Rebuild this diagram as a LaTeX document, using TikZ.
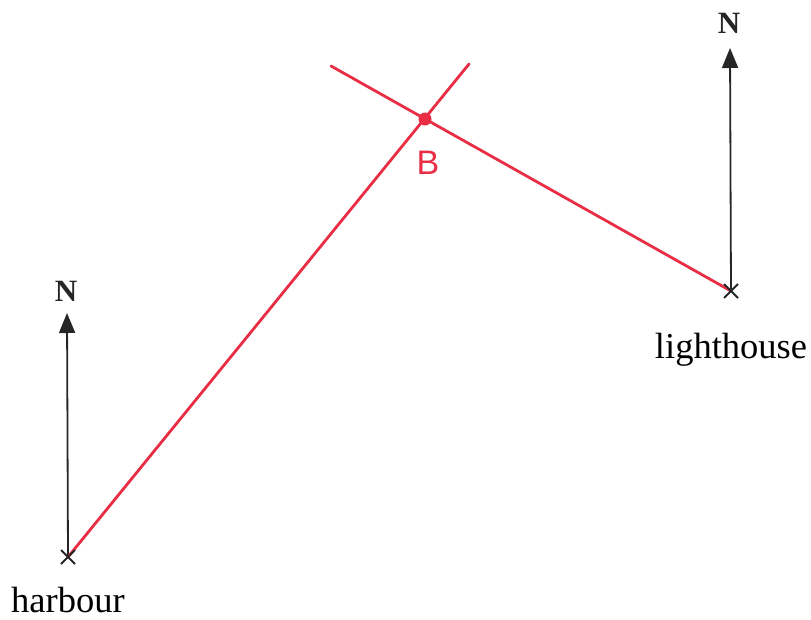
\documentclass[tikz,border=0pt]{standalone}
\usepackage{fontspec}
\setmainfont{Liberation Serif}
\usetikzlibrary{arrows.meta,calc}
\definecolor{pen}{RGB}{232,45,68}
\tikzset{
  northarrow/.style={draw=black!85, line width=1.8pt, -{Triangle[length=20pt,width=16pt]}},
  redline/.style={draw=pen, line width=2.8pt, line cap=round},
  place/.style={font=\fontsize{36.5}{40}\selectfont, anchor=base},
  nlabel/.style={font=\fontsize{31}{34}\selectfont\bfseries, text=black!85},
  cross/.style={draw=black!85, line width=1.8pt}
}
\begin{document}
\begin{tikzpicture}[x=1pt,y=-1pt]
\useasboundingbox (0,0) rectangle (811,619);
% named points
\coordinate (harbour) at (68,557);
\coordinate (light) at (731,291);
\coordinate (B) at (425,119);
\coordinate (hN) at (67,313);
\coordinate (lN) at (730,48);
\coordinate (hEnd) at (469,64);
\coordinate (lEnd) at (331,66);
% north arrows
\draw[northarrow] (harbour) -- (hN);
\draw[northarrow] (light) -- (lN);
\node[nlabel] (nh) at (66,291) {N};
\node[nlabel] (nl) at (729,23) {N};
% red bearing lines
\draw[redline] (harbour) -- (hEnd);
\draw[redline] (light) -- (lEnd);
\fill[pen] (B) circle (6.5pt);
\node[text=pen, font=\fontspec{Liberation Sans}\fontsize{34}{38}\selectfont] (Blabel) at (428,163) {B};
% crosses
\draw[cross] ($(harbour)+(-7,-7)$) -- ($(harbour)+(7,7)$);
\draw[cross] ($(harbour)+(-7,7)$) -- ($(harbour)+(7,-7)$);
\draw[cross] ($(light)+(-7,-7)$) -- ($(light)+(7,7)$);
\draw[cross] ($(light)+(-7,7)$) -- ($(light)+(7,-7)$);
% labels
\node[place] (hl) at (68,612) {harbour};
\node[place] (ll) at (731,358) {lighthouse};
\end{tikzpicture}
\end{document}
